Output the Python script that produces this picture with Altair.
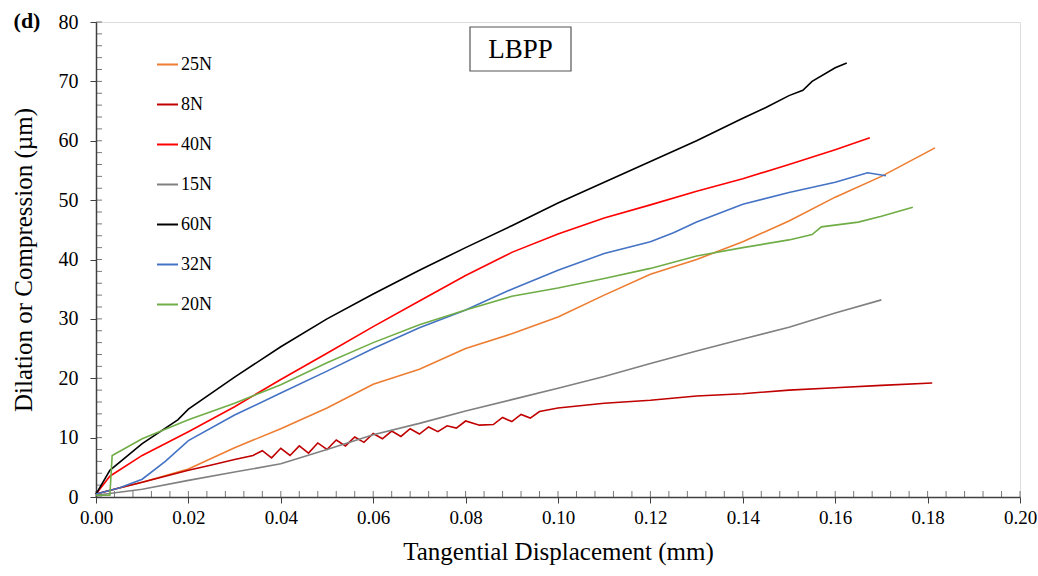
import altair as alt
import pandas as pd

# ---- data ----
series_order = ["25N", "8N", "40N", "15N", "60N", "32N", "20N"]
series_colors = ["#ED7D31", "#C00000", "#FF0000", "#808080", "#000000", "#4472C4", "#70AD47"]

x_25 = [0, 0.005, 0.01, 0.02, 0.03, 0.04, 0.05, 0.06, 0.07, 0.08, 0.09, 0.10, 0.11, 0.12, 0.13, 0.14, 0.15, 0.16, 0.17, 0.1816]
y_25 = [0.5, 1.5, 2.5, 4.7, 8.3, 11.5, 15.0, 19.0, 21.5, 25.0, 27.5, 30.3, 34.0, 37.5, 40.0, 43.0, 46.5, 50.5, 54.0, 58.8]

x_8 = [0, 0.005, 0.01, 0.015, 0.02, 0.025, 0.03, 0.034,
       0.036, 0.038, 0.040, 0.042, 0.044, 0.046, 0.048, 0.050, 0.052, 0.054, 0.056, 0.058,
       0.060, 0.062, 0.064, 0.066, 0.068, 0.070, 0.072, 0.074, 0.076, 0.078, 0.080, 0.083,
       0.086, 0.088, 0.090, 0.092, 0.094, 0.096, 0.10, 0.11, 0.12, 0.13, 0.14, 0.15, 0.16, 0.17, 0.181]
y_8 = [0.5, 1.5, 2.5, 3.5, 4.5, 5.4, 6.3, 7.0,
       7.8, 6.6, 8.2, 7.0, 8.6, 7.4, 9.1, 8.0, 9.6, 8.6, 10.1, 9.2,
       10.7, 9.8, 11.1, 10.2, 11.5, 10.6, 11.8, 11.0, 12.0, 11.6, 12.8, 12.1,
       12.2, 13.4, 12.7, 13.9, 13.3, 14.4, 15.0, 15.8, 16.3, 17.0, 17.4, 18.0, 18.4, 18.8, 19.2]

x_40 = [0, 0.003, 0.01, 0.02, 0.03, 0.04, 0.05, 0.06, 0.07, 0.08, 0.09, 0.10, 0.11, 0.12, 0.13, 0.14, 0.15, 0.16, 0.1675]
y_40 = [0.5, 3.5, 7.0, 11.0, 15.2, 19.8, 24.2, 28.7, 33.0, 37.3, 41.2, 44.3, 47.0, 49.2, 51.5, 53.6, 56.0, 58.5, 60.5]

x_15 = [0, 0.01, 0.02, 0.03, 0.04, 0.05, 0.06, 0.07, 0.08, 0.09, 0.10, 0.11, 0.12, 0.13, 0.14, 0.15, 0.16, 0.17]
y_15 = [0.3, 1.3, 2.8, 4.2, 5.6, 8.0, 10.5, 12.4, 14.5, 16.4, 18.3, 20.3, 22.5, 24.6, 26.6, 28.6, 31.0, 33.2]

x_60 = [0, 0.003, 0.01, 0.0177, 0.02, 0.03, 0.04, 0.05, 0.06, 0.07, 0.08, 0.09, 0.10, 0.11, 0.12, 0.13, 0.14, 0.145, 0.15, 0.153, 0.155, 0.16, 0.1625]
y_60 = [0.5, 4.5, 9.0, 13.0, 14.8, 20.2, 25.3, 30.0, 34.2, 38.2, 42.0, 45.7, 49.5, 53.0, 56.5, 60.0, 63.8, 65.6, 67.6, 68.5, 70.0, 72.3, 73.1]

x_32 = [0, 0.005, 0.01, 0.015, 0.02, 0.03, 0.04, 0.05, 0.06, 0.07, 0.08, 0.09, 0.10, 0.11, 0.12, 0.125, 0.13, 0.14, 0.15, 0.16, 0.167, 0.171]
y_32 = [0.5, 1.5, 3.0, 6.0, 9.5, 13.8, 17.5, 21.2, 25.0, 28.5, 31.5, 35.0, 38.2, 41.0, 43.0, 44.5, 46.3, 49.3, 51.3, 53.0, 54.6, 54.1]

x_20 = [0, 0.003, 0.0035, 0.01, 0.02, 0.03, 0.04, 0.05, 0.06, 0.07, 0.08, 0.09, 0.10, 0.11, 0.12, 0.13, 0.14, 0.15, 0.155, 0.157, 0.165, 0.17, 0.1768]
y_20 = [0.3, 0.3, 7.0, 9.8, 13.0, 15.8, 18.9, 22.6, 26.0, 29.0, 31.5, 33.8, 35.2, 36.8, 38.5, 40.6, 42.0, 43.3, 44.2, 45.5, 46.3, 47.3, 48.8]

x_ticks = [0.00, 0.02, 0.04, 0.06, 0.08, 0.10, 0.12, 0.14, 0.16, 0.18, 0.20]
y_ticks = [0, 10, 20, 30, 40, 50, 60, 70, 80]
x_minor = [i * 0.004 for i in range(51)]
y_minor = [i * 2 for i in range(41)]

xs = {"25N": x_25, "8N": x_8, "40N": x_40, "15N": x_15, "60N": x_60, "32N": x_32, "20N": x_20}
ys = {"25N": y_25, "8N": y_8, "40N": y_40, "15N": y_15, "60N": y_60, "32N": y_32, "20N": y_20}

rows = []
for s in series_order:
    for i, (a, b) in enumerate(zip(xs[s], ys[s])):
        rows.append({"series": s, "x": a, "y": b, "i": i})
df = pd.DataFrame(rows)

FONT = "Liberation Serif"
W, H = 924, 475

xscale = alt.Scale(domain=[0, 0.2], nice=False, zero=False, padding=0)
yscale = alt.Scale(domain=[0, 80], nice=False, padding=0)

lines = alt.Chart(df).mark_line(strokeWidth=1.6).encode(
    x=alt.X("x:Q", scale=xscale,
            axis=alt.Axis(title="Tangential Displacement (mm)", values=x_ticks, format=".2f",
                          grid=False, tickSize=6, labelPadding=5, titlePadding=12,
                          labelFlush=False, labelOverlap=False,
                          labelFontSize=19, titleFontSize=25, labelFont=FONT, titleFont=FONT,
                          domainColor="#404040", tickColor="#404040", domainWidth=1.5,
                          labelColor="black", titleColor="black", titleFontWeight="normal")),
    y=alt.Y("y:Q", scale=yscale,
            axis=alt.Axis(title="Dilation or Compression (µm)", values=y_ticks,
                          grid=False, tickSize=6, labelPadding=12, titlePadding=22,
                          labelFlush=False, labelOverlap=False,
                          labelFontSize=20, titleFontSize=25, labelFont=FONT, titleFont=FONT,
                          domainColor="#404040", tickColor="#404040", domainWidth=1.5,
                          labelColor="black", titleColor="black", titleFontWeight="normal")),
    color=alt.Color("series:N", scale=alt.Scale(domain=series_order, range=series_colors),
                    legend=alt.Legend(title=None, orient="none", legendX=60, legendY=31,
                                      symbolType="stroke", symbolSize=440, symbolStrokeWidth=2,
                                      labelFont=FONT, labelFontSize=18, labelColor="black",
                                      rowPadding=19, labelOffset=2)),
    order="i:Q",
)

xminor = alt.Chart(pd.DataFrame({"v": x_minor})).mark_tick(
    orient="vertical", size=6, color="#404040", thickness=1, yOffset=-3
).encode(x=alt.X("v:Q", scale=xscale), y=alt.datum(0))

yminor = alt.Chart(pd.DataFrame({"v": y_minor})).mark_tick(
    orient="horizontal", size=6, color="#404040", thickness=1, xOffset=3
).encode(y=alt.Y("v:Q", scale=yscale), x=alt.datum(0))

box = alt.Chart(pd.DataFrame({"t": ["LBPP"]})).mark_rect(
    fill="white", stroke="#555555", strokeWidth=1.2
).encode(x=alt.value(374), x2=alt.value(475), y=alt.value(5), y2=alt.value(49))

box_text = alt.Chart(pd.DataFrame({"t": ["LBPP"]})).mark_text(
    font=FONT, fontSize=27, color="black", align="center", baseline="middle"
).encode(text="t:N", x=alt.value(424.5), y=alt.value(28))

panel = alt.Chart(pd.DataFrame({"t": ["(d)"]})).mark_text(
    font=FONT, fontSize=22, fontWeight="bold", color="black", align="center", baseline="middle"
).encode(text="t:N", x=alt.value(-69), y=alt.value(-1))

chart = alt.layer(xminor, yminor, lines, box, box_text, panel).properties(
    width=W, height=H,
    autosize=alt.AutoSizeParams(type="none"),
    padding={"left": 96, "top": 22, "right": 18, "bottom": 79},
).configure_view(stroke="#404040", strokeWidth=1.5).configure_axis(
    labelFont=FONT, titleFont=FONT
).configure_legend(labelFont=FONT).configure(background="white")

chart.save("out.html", embed_options={"renderer": "svg", "actions": False})
